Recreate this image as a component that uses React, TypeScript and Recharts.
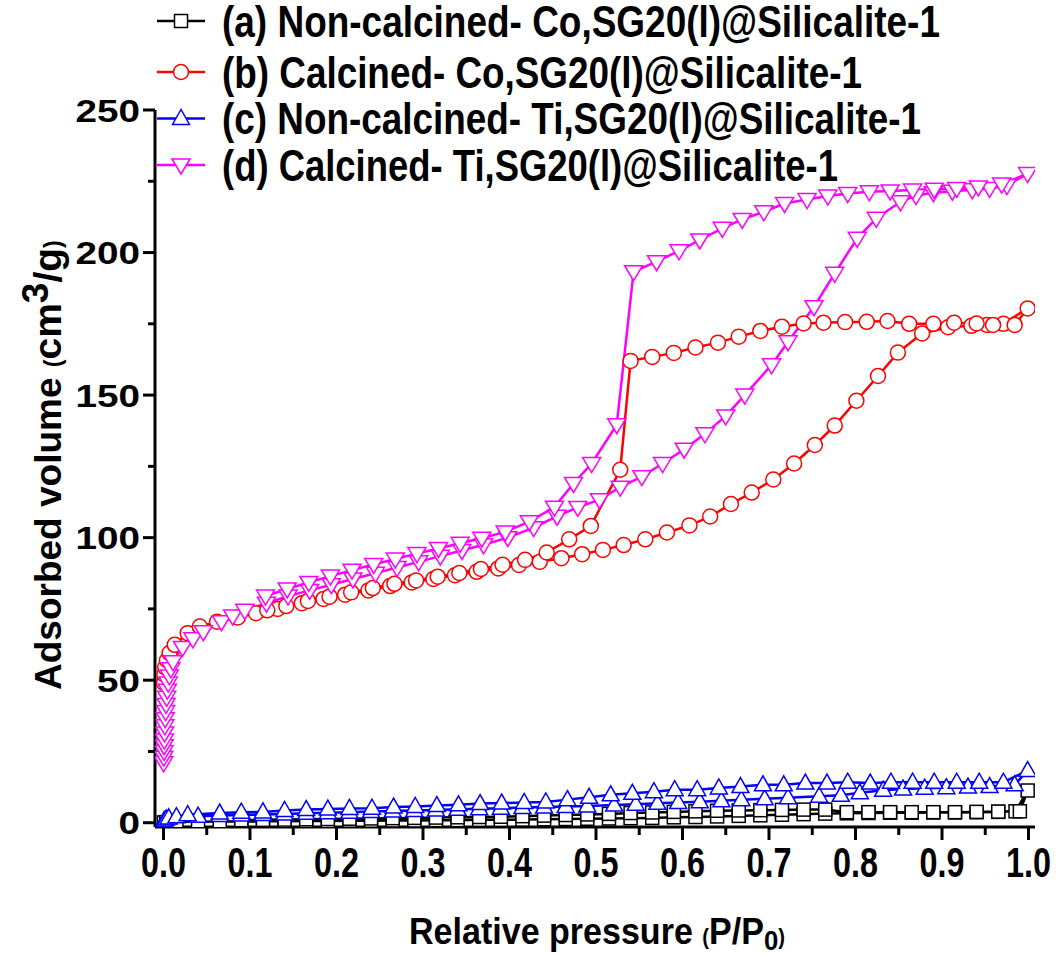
import { LineChart, Line, XAxis, YAxis, Legend, Label } from 'recharts'

// ─── Data ─────────────────────────────────────────────────────────────────────
// (a) Non-calcined Co — adsorption then desorption
const aAdsP = [0.0005, 0.003, 0.015, 0.04, 0.065, 0.09, 0.115, 0.14, 0.165, 0.19, 0.215, 0.24, 0.265, 0.29, 0.315, 0.34, 0.365, 0.39, 0.415, 0.44, 0.465, 0.49, 0.515, 0.54, 0.565, 0.59, 0.615, 0.64, 0.665, 0.69, 0.715, 0.74, 0.765, 0.79, 0.815, 0.84, 0.865, 0.89, 0.915, 0.94, 0.965, 0.985, 0.999]
const aAdsV = [0.1, 0.2, 0.3, 0.3, 0.4, 0.4, 0.5, 0.5, 0.6, 0.6, 0.7, 0.7, 0.8, 0.8, 0.9, 0.9, 1.0, 1.0, 1.1, 1.2, 1.3, 1.4, 1.5, 1.6, 1.7, 1.9, 2.0, 2.2, 2.4, 2.6, 2.8, 3.0, 3.2, 3.3, 3.4, 3.5, 3.5, 3.6, 3.6, 3.7, 3.8, 4.0, 11.3]
const aDesP = [0.99, 0.965, 0.94, 0.915, 0.89, 0.865, 0.84, 0.815, 0.79, 0.765, 0.74, 0.715, 0.69, 0.665, 0.64, 0.615, 0.59, 0.565, 0.54, 0.515, 0.49, 0.465, 0.44, 0.415, 0.39, 0.365, 0.34, 0.315, 0.29, 0.265, 0.24, 0.215, 0.19, 0.165, 0.14, 0.115, 0.09]
const aDesV = [4.0, 3.9, 3.8, 3.7, 3.7, 3.7, 3.7, 3.7, 3.7, 4.6, 4.6, 4.5, 4.4, 4.3, 4.2, 4.0, 3.8, 3.6, 3.4, 3.1, 2.9, 2.7, 2.5, 2.3, 2.1, 2.0, 1.9, 1.8, 1.7, 1.6, 1.5, 1.4, 1.3, 1.2, 1.1, 1.0, 0.9]

// (b) Calcined Co
const bAdsP = [0.0005, 0.001, 0.002, 0.004, 0.007, 0.013, 0.028, 0.042, 0.062, 0.086, 0.107, 0.132, 0.16, 0.185, 0.21, 0.237, 0.262, 0.287, 0.312, 0.337, 0.362, 0.387, 0.411, 0.435, 0.46, 0.484, 0.508, 0.532, 0.557, 0.582, 0.608, 0.632, 0.656, 0.68, 0.705, 0.729, 0.753, 0.776, 0.801, 0.826, 0.849, 0.877, 0.907, 0.934, 0.952, 0.971, 0.999]
const bAdsV = [49, 52, 54.5, 57, 59.5, 62.4, 66.5, 68.8, 70.5, 72, 73.5, 75, 77, 78.5, 80, 81.5, 83, 84.3, 85.5, 86.8, 88, 89.2, 90.4, 91.5, 92.8, 94.2, 95.7, 97.4, 99.4, 101.8, 104.3, 107.4, 111.8, 115.8, 120.4, 126, 132.5, 139.3, 148, 156.7, 164.9, 171.6, 173.8, 174.3, 174.6, 175, 180.4]
const bDesP = [0.984, 0.959, 0.94, 0.914, 0.89, 0.862, 0.837, 0.813, 0.788, 0.763, 0.74, 0.715, 0.69, 0.665, 0.641, 0.615, 0.59, 0.565, 0.54, 0.528, 0.494, 0.469, 0.443, 0.418, 0.392, 0.367, 0.342, 0.317, 0.292, 0.267, 0.242, 0.217, 0.192, 0.167, 0.142, 0.12]
const bDesV = [174.6, 174.6, 175.1, 175.4, 175, 175, 176, 175.7, 175.6, 175.4, 175.1, 174, 172.5, 170.5, 168.4, 166.7, 164.8, 163.4, 162, 123.8, 104.1, 99.4, 94.8, 92.2, 90.5, 89, 87.6, 86.3, 85, 83.8, 82.3, 80.8, 79.3, 77.8, 76, 74.5]

// (c) Non-calcined Ti
const cAdsP = [0.0005, 0.001, 0.003, 0.006, 0.015, 0.04, 0.065, 0.09, 0.115, 0.14, 0.165, 0.19, 0.215, 0.24, 0.265, 0.29, 0.315, 0.34, 0.365, 0.39, 0.415, 0.44, 0.465, 0.49, 0.521, 0.546, 0.571, 0.595, 0.62, 0.645, 0.668, 0.695, 0.722, 0.758, 0.783, 0.805, 0.832, 0.855, 0.88, 0.905, 0.93, 0.955, 0.984, 0.999]
const cAdsV = [0.3, 0.8, 1.3, 1.7, 2.1, 2.3, 2.5, 2.7, 2.9, 3.1, 3.3, 3.5, 3.7, 3.9, 4.1, 4.3, 4.5, 4.7, 4.9, 5.1, 5.3, 5.5, 5.7, 5.9, 6.2, 6.5, 6.8, 7.1, 7.4, 7.7, 8.1, 8.4, 8.8, 9.3, 9.6, 10.5, 11.4, 11.8, 12.1, 12.3, 12.5, 12.7, 13.3, 18.3]
const cDesP = [0.971, 0.943, 0.917, 0.891, 0.866, 0.841, 0.817, 0.791, 0.767, 0.742, 0.717, 0.693, 0.667, 0.642, 0.617, 0.591, 0.567, 0.542, 0.517, 0.492, 0.467, 0.442, 0.417, 0.391, 0.366, 0.341, 0.316, 0.291, 0.266, 0.241, 0.215, 0.19, 0.165, 0.14, 0.115, 0.09, 0.065, 0.028]
const cDesV = [14.2, 14.2, 14.2, 14.2, 14.2, 14.2, 13.9, 14.2, 13.9, 13.9, 13.3, 13.3, 12.7, 12.2, 11.6, 11.6, 10.9, 10.3, 9.8, 8.9, 8.1, 7.3, 7.1, 6.9, 6.7, 6.3, 6.0, 5.7, 5.5, 5.1, 5.0, 4.8, 4.6, 4.3, 3.8, 3.7, 3.4, 2.8]

// (d) Calcined Ti
const dAdsP = [0.0002, 0.0004, 0.0006, 0.0008, 0.001, 0.0013, 0.0016, 0.002, 0.0025, 0.003, 0.0037, 0.0045, 0.0055, 0.0068, 0.0085, 0.011, 0.022, 0.034, 0.046, 0.067, 0.08, 0.094, 0.119, 0.144, 0.169, 0.194, 0.219, 0.245, 0.27, 0.295, 0.32, 0.345, 0.37, 0.398, 0.428, 0.455, 0.479, 0.504, 0.528, 0.553, 0.577, 0.602, 0.626, 0.65, 0.672, 0.703, 0.722, 0.752, 0.776, 0.802, 0.824, 0.852, 0.87, 0.89, 0.912, 0.935, 0.955, 0.975, 0.999]
const dAdsV = [21, 23, 25, 27, 29, 31.5, 34, 36.5, 39, 41.5, 44, 46.5, 49, 51.5, 54, 56.5, 61.5, 64.5, 67, 70.5, 72.5, 74.5, 77, 79.5, 81.5, 83.5, 85.5, 87.5, 89.5, 91.5, 93.5, 95.5, 97.5, 100, 103.5, 107.5, 110.6, 113.3, 117.7, 121.4, 126, 131, 136.4, 142.7, 150, 160.6, 168.7, 181, 192.7, 205, 212, 217.8, 220, 221, 221.5, 222, 222.5, 223.5, 227.7]
const dDesP = [0.969, 0.942, 0.917, 0.891, 0.866, 0.84, 0.816, 0.791, 0.768, 0.744, 0.718, 0.694, 0.669, 0.646, 0.62, 0.596, 0.57, 0.5435, 0.524, 0.495, 0.474, 0.452, 0.423, 0.395, 0.368, 0.343, 0.318, 0.293, 0.268, 0.243, 0.218, 0.193, 0.168, 0.143, 0.118]
const dDesV = [224, 223, 222.5, 222.2, 221.9, 221.6, 221.3, 220.7, 219.8, 218.6, 217.2, 214.3, 211.6, 208.5, 204.4, 200.6, 196.8, 193.3, 139.6, 126, 119, 110.7, 105.6, 102, 99.8, 98, 96.2, 94.4, 92.5, 90.6, 88.6, 86.5, 84.3, 82, 79.5]

const legendLabels = [
  '(a) Non-calcined- Co,SG20(l)@Silicalite-1',
  '(b) Calcined- Co,SG20(l)@Silicalite-1',
  '(c) Non-calcined- Ti,SG20(l)@Silicalite-1',
  '(d) Calcined- Ti,SG20(l)@Silicalite-1',
]
const xTicks = [0, 0.05, 0.1, 0.15, 0.2, 0.25, 0.3, 0.35, 0.4, 0.45, 0.5, 0.55, 0.6, 0.65, 0.7, 0.75, 0.8, 0.85, 0.9, 0.95, 1.0]
const yTicks = [0, 25, 50, 75, 100, 125, 150, 175, 200, 225, 250]

// ─── Helpers ──────────────────────────────────────────────────────────────────
const FONT = '"Liberation Sans", Arial, sans-serif'
const COLORS = ['#000000', '#ff0000', '#0000ff', '#ff00ff']
const LEGEND_W = [718, 640, 699, 616]
const LEGEND_Y = [21, 72, 118.5, 165]

const isotherm = (ap: number[], av: number[], dp: number[], dv: number[]) => [
  ...ap.map((p, i) => ({ p, v: av[i] })),
  ...dp.map((p, i) => ({ p, v: dv[i] })),
]

const seriesA = isotherm(aAdsP, aAdsV, aDesP, aDesV)
const seriesB = isotherm(bAdsP, bAdsV, bDesP, bDesV)
const seriesC = isotherm(cAdsP, cAdsV, cDesP, cDesV)
const seriesD = isotherm(dAdsP, dAdsV, dDesP, dDesV)

// ─── Markers ──────────────────────────────────────────────────────────────────
function marker(kind: number, cx: number, cy: number, key?: string | number) {
  const c = COLORS[kind]
  if (kind === 0) return <rect key={key} x={cx - 6.5} y={cy - 6.5} width={13} height={13} fill="#fff" stroke={c} strokeWidth={1.5} />
  if (kind === 1) return <circle key={key} cx={cx} cy={cy} r={7.5} fill="#fff" stroke={c} strokeWidth={1.5} />
  if (kind === 2) return <polygon key={key} points={`${cx},${cy - 9} ${cx - 8.5},${cy + 6} ${cx + 8.5},${cy + 6}`} fill="#fff" stroke={c} strokeWidth={1.5} />
  return <polygon key={key} points={`${cx},${cy + 9} ${cx - 9},${cy - 6} ${cx + 9},${cy - 6}`} fill="#fff" stroke={c} strokeWidth={1.5} />
}

const dotFor = (kind: number) => (props: any) => {
  const { cx, cy, index } = props
  if (cx == null || cy == null) return <g key={index} />
  return marker(kind, cx, cy, index)
}

// ─── Ticks ────────────────────────────────────────────────────────────────────
function XTick(props: any) {
  const { x, y, payload } = props
  const v = payload.value as number
  const major = Math.abs(v * 10 - Math.round(v * 10)) < 1e-6
  return (
    <g>
      <line x1={x} x2={x} y1={y} y2={y + (major ? 13 : 8)} stroke="#000" strokeWidth={3} />
      {major && (
        <text x={x} y={y + 50} textAnchor="middle" fontFamily={FONT} fontWeight="bold" fontSize={42}
          textLength={45} lengthAdjust="spacingAndGlyphs" fill="#000">
          {v.toFixed(1)}
        </text>
      )}
    </g>
  )
}

function YTick(props: any) {
  const { x, y, payload } = props
  const v = payload.value as number
  const major = v % 50 === 0
  const s = String(v)
  return (
    <g>
      <line x1={x - (major ? 12 : 7)} x2={x} y1={y} y2={y} stroke="#000" strokeWidth={3} />
      {major && (
        <text x={x - 15} y={y + 11.5} textAnchor="end" fontFamily={FONT} fontWeight="bold" fontSize={32}
          textLength={21.5 * s.length} lengthAdjust="spacingAndGlyphs" fill="#000">
          {s}
        </text>
      )}
    </g>
  )
}

// ─── Legend ───────────────────────────────────────────────────────────────────
function LegendBox() {
  return (
    <svg width={1057} height={200} style={{ display: 'block' }}>
      {legendLabels.map((t, i) => {
        const y = LEGEND_Y[i]
        return (
          <g key={t}>
            <line x1={157} x2={205} y1={y} y2={y} stroke={COLORS[i]} strokeWidth={2.5} />
            {marker(i, 181, y)}
            <text x={222} y={y + 15.5} fontFamily={FONT} fontWeight="bold" fontSize={44}
              textLength={LEGEND_W[i]} lengthAdjust="spacingAndGlyphs" fill="#000">
              {t}
            </text>
          </g>
        )
      })}
    </svg>
  )
}

// ─── Axis titles ──────────────────────────────────────────────────────────────
const YTitle = () => (
  <text transform="translate(61, 690) rotate(-90)" fontFamily={FONT} fontWeight="bold" fill="#000" fontSize={37}>
    Adsorbed volume <tspan fontSize={23}>(</tspan><tspan fontSize={39}>cm</tspan><tspan fontSize={37} dy={-13}>3</tspan><tspan fontSize={39} dy={13}>/g</tspan><tspan fontSize={23}>)</tspan>
  </text>
)

const XTitle = () => (
  <text transform="translate(597, 944) scale(0.92, 1)" textAnchor="middle" fontFamily={FONT} fontWeight="bold" fill="#000" fontSize={37}>
    Relative pressure <tspan fontSize={22}>(</tspan>P/P<tspan fontSize={28} dy={6}>0</tspan><tspan fontSize={22} dy={-6}>)</tspan>
  </text>
)

export default function App() {
  const series = [seriesA, seriesB, seriesC, seriesD]
  return (
    <div style={{ position: 'absolute', left: 0, top: 0, background: '#fff' }}>
      <LineChart width={1057} height={954} margin={{ top: 110, right: 22, bottom: 0, left: 0 }}>
        <XAxis dataKey="p" type="number" domain={[-0.0098, 1.0075]} allowDataOverflow ticks={xTicks}
          height={127} axisLine={{ stroke: '#000', strokeWidth: 3 }} tickLine={false} tickSize={0} tickMargin={0}
          tick={<XTick />} interval={0}>
          <Label content={() => <XTitle />} />
        </XAxis>
        <YAxis dataKey="v" type="number" domain={[-1.5, 250]} allowDataOverflow ticks={yTicks}
          width={155} axisLine={{ stroke: '#000', strokeWidth: 3 }} tickLine={false} tickSize={0} tickMargin={0}
          tick={<YTick />} interval={0}>
          <Label content={() => <YTitle />} />
        </YAxis>
        <Legend layout="horizontal" verticalAlign="middle" align="center" content={() => <LegendBox />}
          wrapperStyle={{ position: 'absolute', top: 0, left: 0, width: 1057, height: 200 }} />
        {series.map((d, i) => (
          <Line key={i} data={d} dataKey="v" type="linear" stroke={COLORS[i]} strokeWidth={2.5}
            dot={dotFor(i)} activeDot={false} isAnimationActive={false} legendType="none" />
        ))}
      </LineChart>
    </div>
  )
}
